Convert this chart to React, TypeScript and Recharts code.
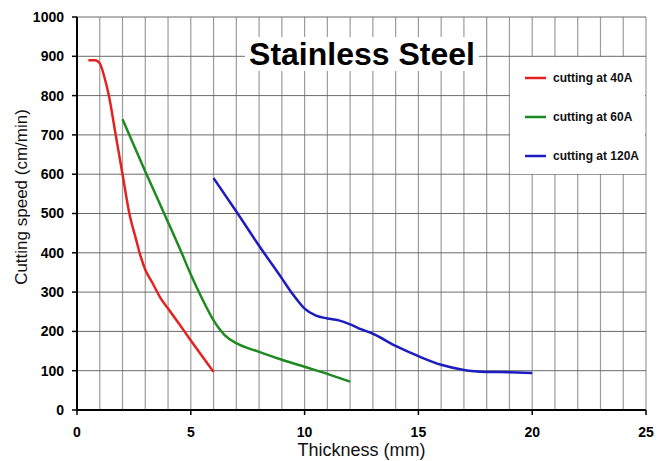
import React from 'react'
import { LineChart, Line, XAxis, YAxis, CartesianGrid, Legend } from 'recharts'

const FONT = '"Liberation Sans", Arial, sans-serif'

// thickness (mm) / cutting speed (cm/min)
const thickness40A = [0.5, 0.8, 1, 1.2, 1.4, 1.7, 2, 2.3, 2.6, 2.8, 3, 3.3, 3.7, 4, 4.5, 5, 5.5, 6]
const speed40A = [890, 890, 882, 848, 800, 700, 600, 500, 433, 390, 357, 325, 282, 258, 218, 177, 137, 97]

const thickness60A = [2, 3, 4, 4.5, 5, 5.5, 6, 6.5, 7, 8, 9, 10, 11, 12]
const speed60A = [740, 607, 478, 413, 345, 283, 228, 190, 170, 148, 128, 110, 92, 72]

const thickness120A = [6, 7, 8, 9, 9.5, 10, 10.5, 11, 11.5, 12, 12.5, 13, 14, 15, 16, 17, 18, 19, 20]
const speed120A = [590, 505, 418, 335, 293, 258, 240, 233, 228, 218, 205, 194, 163, 137, 115, 102, 97, 96, 94]

const xTicks = Array.from({ length: 26 }, (_, i) => i)
const yTicks = [0, 100, 200, 300, 400, 500, 600, 700, 800, 900, 1000]

const toPoints = (xs: number[], ys: number[]) => xs.map((x, i) => ({ x, y: ys[i] }))

const series = [
    { name: 'cutting at 40A', color: '#e32222', data: toPoints(thickness40A, speed40A) },
    { name: 'cutting at 60A', color: '#1f8a22', data: toPoints(thickness60A, speed60A) },
    { name: 'cutting at 120A', color: '#1c1cbf', data: toPoints(thickness120A, speed120A) },
]

const XTick = (props: any) => {
    const { x, y, payload } = props
    if (payload.value % 5 !== 0) return <g />
    return (
        <g>
            <line x1={x} x2={x} y1={y} y2={y + 5} stroke='#000' strokeWidth={1.5} />
            <text x={x} y={y + 27} textAnchor='middle' fontSize={14} fontWeight='bold' fill='#000' fontFamily={FONT}>
                {payload.value}
            </text>
        </g>
    )
}

const LegendBox = () => (
    <div style={{ position: 'relative', width: '100%', height: '100%', fontFamily: FONT }}>
        {series.map((s, i) => (
            <div
                key={s.name}
                style={{
                    position: 'absolute',
                    left: 15,
                    top: 21 + i * 39 - 8,
                    height: 16,
                    display: 'flex',
                    alignItems: 'center',
                    whiteSpace: 'nowrap',
                }}
            >
                <svg width={21} height={4} style={{ marginRight: 7 }}>
                    <line x1={0} x2={21} y1={2} y2={2} stroke={s.color} strokeWidth={2.5} />
                </svg>
                <span style={{ fontSize: 12, fontWeight: 'bold', color: '#111' }}>{s.name}</span>
            </div>
        ))}
    </div>
)

export default function App() {
    return (
        <div style={{ position: 'absolute', left: 0, top: 0, width: 669, height: 461, background: '#fff', fontFamily: FONT }}>
            <LineChart width={669} height={461} margin={{ top: 17, right: 23, bottom: 0, left: 0 }}>
                <CartesianGrid horizontal={false} stroke='#9c9c9c' strokeWidth={1.2} />
                <CartesianGrid vertical={false} stroke='#6a6a6a' />
                <XAxis
                    type='number'
                    dataKey='x'
                    domain={[0, 25]}
                    ticks={xTicks}
                    interval={0}
                    height={51}
                    tickSize={0}
                    tickMargin={0}
                    tickLine={false}
                    axisLine={{ stroke: '#000', strokeWidth: 2 }}
                    tick={<XTick />}
                    label={{
                        content: (p: any) => (
                            <text
                                x={p.viewBox.x + p.viewBox.width / 2}
                                y={p.viewBox.y + 46}
                                textAnchor='middle'
                                fontSize={18}
                                fill='#111'
                                fontFamily={FONT}
                            >
                                Thickness (mm)
                            </text>
                        ),
                    }}
                />
                <YAxis
                    type='number'
                    dataKey='y'
                    domain={[0, 1000]}
                    ticks={yTicks}
                    interval={0}
                    width={77}
                    tickSize={5}
                    tickMargin={8}
                    tickLine={{ stroke: '#000', strokeWidth: 1.5 }}
                    axisLine={{ stroke: '#000', strokeWidth: 2 }}
                    tick={{ fontSize: 14, fontWeight: 'bold', fill: '#000', fontFamily: FONT }}
                    label={{
                        content: () => (
                            <text
                                x={27}
                                y={197}
                                transform='rotate(-90 27 197)'
                                textAnchor='middle'
                                fontSize={17}
                                fill='#111'
                                fontFamily={FONT}
                            >
                                Cutting speed (cm/min)
                            </text>
                        ),
                    }}
                />
                {series.map((s) => (
                    <Line
                        key={s.name}
                        data={s.data}
                        dataKey='y'
                        name={s.name}
                        type='monotone'
                        stroke={s.color}
                        strokeWidth={2.5}
                        dot={false}
                        activeDot={false}
                        isAnimationActive={false}
                    />
                ))}
                <Legend
                    layout='horizontal'
                    verticalAlign='middle'
                    align='center'
                    content={<LegendBox />}
                    wrapperStyle={{ left: 510, top: 57, width: 135, height: 117, background: '#fff' }}
                />
            </LineChart>
            <div
                style={{
                    position: 'absolute',
                    left: 245,
                    top: 37,
                    width: 234,
                    height: 34,
                    lineHeight: '34px',
                    background: '#fff',
                    textAlign: 'center',
                    fontSize: 32,
                    fontWeight: 'bold',
                    color: '#000',
                    whiteSpace: 'nowrap',
                }}
            >
                Stainless Steel
            </div>
        </div>
    )
}
